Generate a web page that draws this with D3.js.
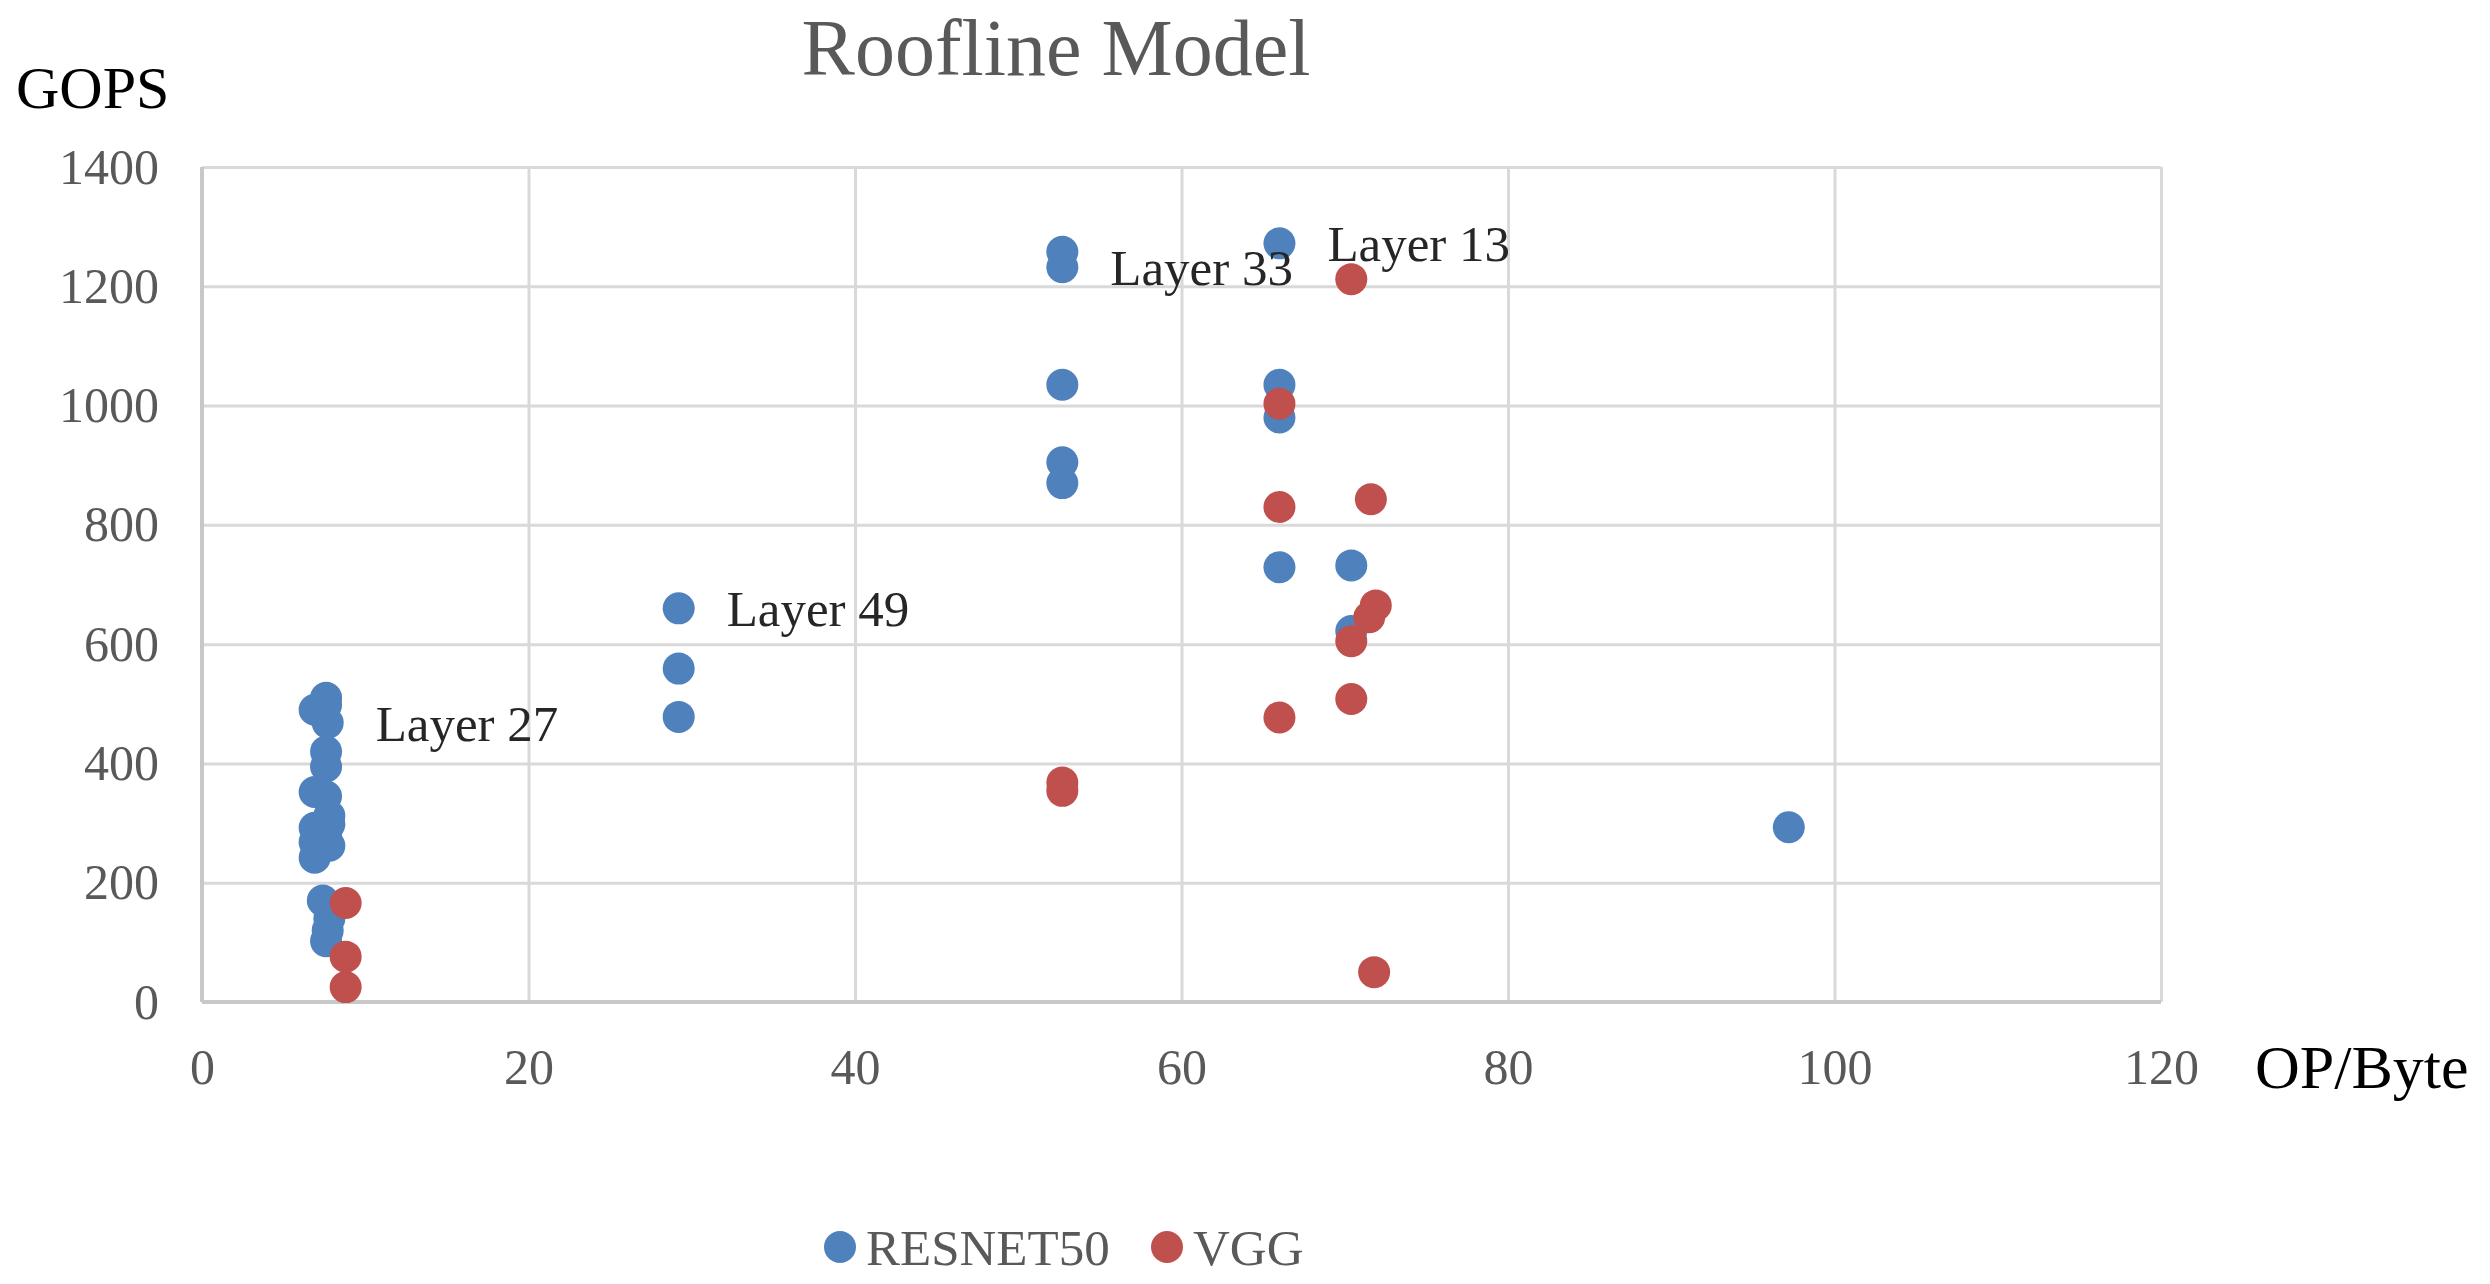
<!DOCTYPE html>
<html>
<head>
<meta charset="utf-8">
<style>
  body { margin: 0; background: #fff; }
  svg text { font-family: "Liberation Serif", "Times New Roman", serif; }
</style>
</head>
<body>
<div id="container"></div>
<script src="https://cdn.jsdelivr.net/npm/d3@7"></script>
<script>
    // Data: [OP/Byte, GOPS]
    let resnet50 = [
        [7.6, 510], [6.9, 490], [7.6, 498], [7.7, 468], [7.6, 420], [7.6, 395],
        [6.9, 352], [7.6, 345], [7.8, 312], [7.8, 298], [6.9, 292], [7.6, 280],
        [6.9, 268], [7.8, 262], [7.2, 258], [6.9, 242], [7.4, 170], [7.8, 140],
        [7.7, 120], [7.6, 102],
        [29.2, 660], [29.2, 559], [29.2, 478],
        [52.7, 1258], [52.7, 1232], [52.7, 1035], [52.7, 905], [52.7, 870],
        [66.0, 1272], [66.0, 1035], [66.0, 980], [66.0, 729],
        [70.4, 732], [70.4, 622],
        [97.2, 293]
    ];
    let vgg = [
        [8.8, 166], [8.8, 76], [8.8, 25],
        [52.7, 368], [52.7, 354],
        [66.0, 1003], [66.0, 830], [66.0, 477],
        [70.4, 1212], [70.4, 605], [70.4, 508],
        [71.6, 843], [71.9, 665], [71.5, 645], [71.8, 50]
    ];
    let layerLabels = [
        { text: "Layer 27", x: 7.7, y: 468 },
        { text: "Layer 49", x: 29.2, y: 660 },
        { text: "Layer 33", x: 52.7, y: 1232 },
        { text: "Layer 13", x: 66.0, y: 1272 }
    ];
    let xTicks = [0, 20, 40, 60, 80, 100, 120];
    let yTicks = [0, 200, 400, 600, 800, 1000, 1200, 1400];
    let seriesNames = ["RESNET50", "VGG"];
    let seriesColors = ["#4f81bd", "#c0504d"];

    // Set up SVG
    let W = 2490, H = 1284;
    let margin = { top: 167, right: 329, bottom: 282, left: 202 };
    let width = W - margin.left - margin.right;
    let height = H - margin.top - margin.bottom;

    let root = d3.select("#container")
        .append("svg")
        .attr("width", W)
        .attr("height", H);

    let svg = root.append("g")
        .attr("transform", `translate(${margin.left}, ${margin.top})`);

    let x = d3.scaleLinear().domain([0, 120]).range([0, width]);
    let y = d3.scaleLinear().domain([0, 1400]).range([height, 0]);

    // Grid + axes
    let xAxis = svg.append("g")
        .attr("transform", `translate(0, ${height})`)
        .call(d3.axisBottom(x).tickValues(xTicks).tickFormat(d3.format("d"))
            .tickSize(-height).tickPadding(46));
    let yAxis = svg.append("g")
        .call(d3.axisLeft(y).tickValues(yTicks).tickFormat(d3.format("d"))
            .tickSize(-width).tickPadding(43));

    [xAxis, yAxis].forEach(ax => {
        ax.select(".domain").remove();
        ax.selectAll(".tick line").attr("stroke", "#d9d9d9").attr("stroke-width", 3);
        ax.selectAll(".tick text")
            .attr("fill", "#595959")
            .style("font-size", "50px")
            .style("font-family", "Liberation Serif");
    });

    // Left and bottom axis lines
    svg.append("line")
        .attr("x1", 0).attr("x2", 0).attr("y1", 0).attr("y2", height)
        .attr("stroke", "#c8c8c8").attr("stroke-width", 4);
    svg.append("line")
        .attr("x1", 0).attr("x2", width).attr("y1", height).attr("y2", height)
        .attr("stroke", "#c8c8c8").attr("stroke-width", 4);

    // Points
    [resnet50, vgg].forEach((series, i) => {
        svg.append("g")
            .selectAll("circle")
            .data(series)
            .enter()
            .append("circle")
            .attr("cx", d => x(d[0]))
            .attr("cy", d => y(d[1]))
            .attr("r", 16)
            .attr("fill", seriesColors[i]);
    });

    // Data labels
    svg.append("g")
        .selectAll("text")
        .data(layerLabels)
        .enter()
        .append("text")
        .attr("x", d => x(d.x) + 48)
        .attr("y", d => y(d.y))
        .attr("dy", "0.35em")
        .attr("fill", "#262626")
        .style("font-size", "51px")
        .text(d => d.text);

    // Title and axis titles
    root.append("text")
        .attr("x", 1056).attr("y", 75)
        .attr("text-anchor", "middle")
        .attr("fill", "#595959")
        .style("font-size", "80px")
        .text("Roofline Model");

    root.append("text")
        .attr("x", 16).attr("y", 108)
        .attr("fill", "#000")
        .style("font-size", "60px")
        .text("GOPS");

    root.append("text")
        .attr("x", 2255).attr("y", 1088)
        .attr("fill", "#000")
        .style("font-size", "62px")
        .text("OP/Byte");

    // Legend
    let legend = root.append("g").attr("transform", "translate(840, 1247)");
    let legendX = [0, 327];
    seriesNames.forEach((name, i) => {
        let g = legend.append("g").attr("transform", `translate(${legendX[i]}, 0)`);
        g.append("circle").attr("r", 16).attr("fill", seriesColors[i]);
        g.append("text")
            .attr("x", 26).attr("dy", "0.35em")
            .attr("fill", "#595959")
            .style("font-size", "51px")
            .text(name);
    });
</script>
</body>
</html>
